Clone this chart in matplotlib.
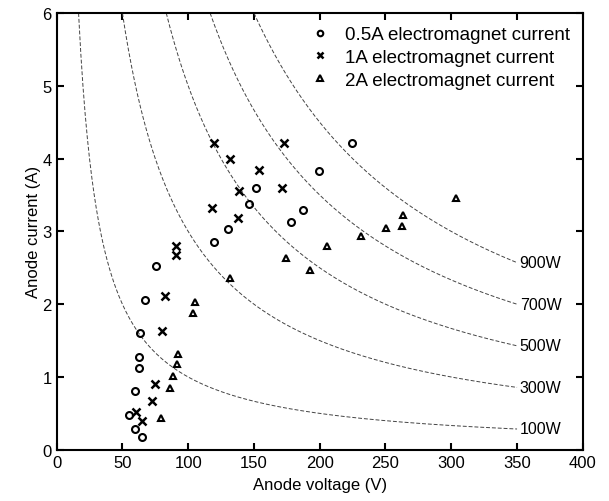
import numpy as np
import matplotlib.pyplot as plt

plt.rcParams['font.family'] = ['Liberation Sans', 'DejaVu Sans']

# 0.5A electromagnet current
v_05 = [55.1, 59.4, 64.7, 59.4, 62.4, 62.4, 63.4, 66.8, 75.3, 119.6, 130.5,
        145.9, 151.7, 177.8, 187.6, 199.8, 224.6]
i_05 = [0.48, 0.29, 0.17, 0.81, 1.12, 1.27, 1.60, 2.06, 2.53, 2.86, 3.03,
        3.38, 3.60, 3.13, 3.29, 3.83, 4.21]

# 1A electromagnet current
v_1 = [60.7, 65.2, 72.8, 74.8, 80.4, 82.4, 90.5, 90.5, 118.4, 137.8, 138.6,
       119.6, 131.5, 153.7, 171.5, 173.2]
i_1 = [0.52, 0.40, 0.67, 0.905, 1.63, 2.11, 2.67, 2.80, 3.32, 3.18, 3.55,
       4.21, 4.00, 3.84, 3.59, 4.21]

# 2A electromagnet current
v_2 = [79.7, 86.2, 88.5, 91.3, 92.3, 103.7, 105.5, 132.0, 174.5, 192.7, 205.3,
       231.4, 250.4, 262.5, 263.5, 303.5]
i_2 = [0.43, 0.855, 1.02, 1.18, 1.32, 1.88, 2.03, 2.36, 2.63, 2.47, 2.80,
       2.94, 3.05, 3.07, 3.23, 3.46]

powers = [100, 300, 500, 700, 900]
power_labels = ['100W', '300W', '500W', '700W', '900W']

fig = plt.figure(figsize=(6.09, 5.02), dpi=100)
ax = fig.add_axes([0.093, 0.102, 0.864, 0.870])

# constant power curves
for p, lab in zip(powers, power_labels):
    v = np.linspace(p / 6.0, 350, 400)
    ax.plot(v, p / v, color='#444444', linestyle=(0, (4, 2)), linewidth=0.7)
    ax.text(352, p / 350, lab, fontsize=11.5, ha='left', va='center')

ax.plot(v_05, i_05, linestyle='none', marker='o', markersize=5,
        markerfacecolor='none', markeredgecolor='black', markeredgewidth=1.5,
        label='0.5A electromagnet current')
ax.plot(v_1, i_1, linestyle='none', marker='x', markersize=6,
        color='black', markeredgewidth=1.8, label='1A electromagnet current')
ax.plot(v_2, i_2, linestyle='none', marker='^', markersize=5,
        markerfacecolor='none', markeredgecolor='black', markeredgewidth=1.5,
        label='2A electromagnet current')

ax.set_xlim(0, 400)
ax.set_ylim(0, 6)
ax.set_xticks(np.arange(0, 401, 50))
ax.set_yticks(np.arange(0, 7, 1))
ax.tick_params(direction='in', top=True, right=True, length=5, width=1.5,
               labelsize=12)
for s in ax.spines.values():
    s.set_linewidth(1.5)

ax.set_xlabel('Anode voltage (V)', fontsize=12, labelpad=5)
ax.set_ylabel('Anode current (A)', fontsize=12, labelpad=1)

ax.legend(loc='upper right', frameon=False, fontsize=13.5, markerscale=0.8,
          handlelength=1.2, handletextpad=0.7, labelspacing=0.3,
          borderaxespad=0.3)

fig.savefig('out.png', dpi=100)
